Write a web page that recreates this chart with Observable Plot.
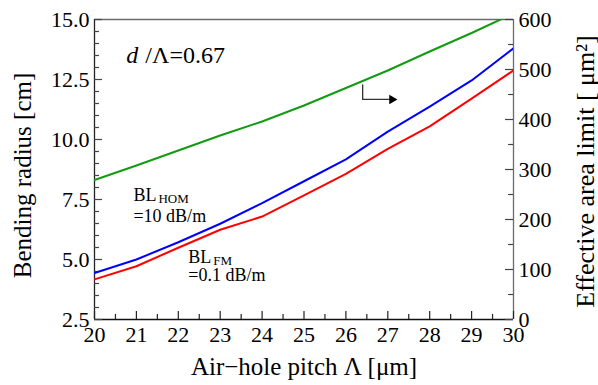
<!DOCTYPE html>
<html>
<head>
<meta charset="utf-8">
<script src="https://cdn.jsdelivr.net/npm/d3@7"></script>
<script src="https://cdn.jsdelivr.net/npm/@observablehq/plot@0.6"></script>
<style>
  html, body { margin: 0; padding: 0; background: #fff; }
  #chart svg { display: block; }
</style>
</head>
<body>
<div id="chart"></div>
<script>
// ---- data ----
const pitch = [20, 21, 22, 23, 24, 25, 26, 27, 28, 29, 30];
const blHom = [4.44, 5.0, 5.72, 6.49, 7.35, 8.26, 9.17, 10.33, 11.37, 12.46, 13.8];
const blFm  = [4.17, 4.72, 5.49, 6.24, 6.79, 7.67, 8.57, 9.61, 10.55, 11.70, 12.88];
const aeffLimit = [279, 308, 338, 368, 396, 428, 463, 498, 536, 573, 612];

const xTicks = [20, 21, 22, 23, 24, 25, 26, 27, 28, 29, 30];
const xMinor = [20.5, 21.5, 22.5, 23.5, 24.5, 25.5, 26.5, 27.5, 28.5, 29.5];
const yTicks = [2.5, 5.0, 7.5, 10.0, 12.5, 15.0];
const yMinor = [3, 3.5, 4, 4.5, 5.5, 6, 6.5, 7, 8, 8.5, 9, 9.5, 10.5, 11, 11.5, 12, 13, 13.5, 14, 14.5];
const areaTicks = [0, 100, 200, 300, 400, 500, 600];
const areaMinor = [50, 150, 250, 350, 450, 550];

const xDomain = [20, 30];
const yDomain = [2.5, 15];
const areaDomain = [0, 600];

// annotation anchors (data units of left axis)
const arrowX = [26.4, 26.4, 27.05];
const arrowY = [12.28, 11.67, 11.67];
const arrowHead = [{x: 27.1, y: 11.67}];

const xLabel = "Air\u2212hole pitch \u039b [\u03bcm]";
const yLabel = "Bending radius [cm]";
const y2Label = "Effective area limit [ \u03bcm\u00b2]";

// ---- helpers ----
const toLeft = a => yDomain[0] + (a - areaDomain[0]) / (areaDomain[1] - areaDomain[0]) * (yDomain[1] - yDomain[0]);
const fromLeft = v => areaDomain[0] + (v - yDomain[0]) / (yDomain[1] - yDomain[0]) * (areaDomain[1] - areaDomain[0]);

const homData = pitch.map((p, i) => ({x: p, y: blHom[i]}));
const fmData = pitch.map((p, i) => ({x: p, y: blFm[i]}));
const aeffData = pitch.map((p, i) => ({x: p, y: toLeft(aeffLimit[i])}));
const arrowData = arrowX.map((x, i) => ({x, y: arrowY[i]}));

const F = "'Liberation Serif', 'Times New Roman', serif";
const tickFs = 22;
const W = 598, H = 385, ML = 94, MR = 85, MT = 19, MB = 66;
const innerW = W - ML - MR, innerH = H - MT - MB;
const majorLen = 8, minorLen = 5;

const chart = Plot.plot({
  width: W,
  height: H,
  marginLeft: ML,
  marginRight: MR,
  marginTop: MT,
  marginBottom: MB,
  style: {fontFamily: F, background: "#fff", color: "#000"},
  x: {domain: xDomain},
  y: {domain: yDomain},
  marks: [
    // frame edges
    Plot.ruleY([yDomain[1]], {stroke: "#6b6b6b", strokeWidth: 1.3}),
    Plot.ruleX([xDomain[1]], {stroke: "#6b6b6b", strokeWidth: 1.3}),
    Plot.ruleX([xDomain[0]], {stroke: "#222", strokeWidth: 1.3}),
    Plot.ruleY([yDomain[0]], {stroke: "#111", strokeWidth: 1.3}),
    // inward ticks
    Plot.tickX(xTicks, {x: d => d, insetTop: innerH - majorLen, stroke: "#222", strokeWidth: 1.2}),
    Plot.tickX(xMinor, {x: d => d, insetTop: innerH - minorLen, stroke: "#222", strokeWidth: 1.2}),
    Plot.tickY(yTicks, {y: d => d, insetRight: innerW - majorLen, stroke: "#444", strokeWidth: 1.2}),
    Plot.tickY(yMinor, {y: d => d, insetRight: innerW - minorLen, stroke: "#444", strokeWidth: 1.2}),
    Plot.tickY(areaTicks.map(toLeft), {y: d => d, insetLeft: innerW - majorLen, stroke: "#444", strokeWidth: 1.2}),
    Plot.tickY(areaMinor.map(toLeft), {y: d => d, insetLeft: innerW - minorLen, stroke: "#444", strokeWidth: 1.2}),
    // tick labels
    Plot.axisX(xTicks, {tickSize: 0, tickPadding: 7, fontSize: tickFs, label: null, tickFormat: d => String(d)}),
    Plot.axisY(yTicks, {tickSize: 0, tickPadding: 5, fontSize: tickFs, label: null, tickFormat: d3.format(".1f")}),
    Plot.axisY(areaTicks.map(toLeft), {anchor: "right", tickSize: 0, tickPadding: 5, fontSize: tickFs, label: null,
      tickFormat: d => String(Math.round(fromLeft(d)))}),
    // axis titles
    Plot.text([yLabel], {frameAnchor: "left", rotate: -90, dx: -64, dy: 6, textAnchor: "middle", lineAnchor: "bottom", fontSize: 25, fill: "#000"}),
    Plot.text([y2Label], {frameAnchor: "right", rotate: -90, dx: 80, dy: 2, textAnchor: "middle", lineAnchor: "bottom", fontSize: 26, fill: "#000"}),
    Plot.text([xLabel], {frameAnchor: "bottom", dy: 55, textAnchor: "middle", lineAnchor: "bottom", fontSize: 25, fill: "#000"}),
    // data lines
    Plot.line(aeffData, {x: "x", y: "y", stroke: "#139a13", strokeWidth: 2, clip: true}),
    Plot.line(fmData, {x: "x", y: "y", stroke: "#ff0000", strokeWidth: 2, clip: true}),
    Plot.line(homData, {x: "x", y: "y", stroke: "#0000ff", strokeWidth: 2, clip: true}),
    // arrow
    Plot.line(arrowData, {x: "x", y: "y", stroke: "#333", strokeWidth: 1.3}),
    Plot.dot(arrowHead, {x: "x", y: "y", symbol: "triangle2", r: 4.5, rotate: 90, fill: "#000", stroke: "none"}),
    // annotations
    Plot.text(["d"], {x: () => 20.76, y: () => 13.195, textAnchor: "start", lineAnchor: "bottom", fontSize: 24, fontStyle: "italic", fill: "#000"}),
    Plot.text(["/\u039b=0.67"], {x: () => 20.76, y: () => 13.195, dx: 19, textAnchor: "start", lineAnchor: "bottom", fontSize: 24, fill: "#000"}),
    Plot.text(["BL"], {x: () => 20.93, y: () => 7.43, textAnchor: "start", lineAnchor: "bottom", fontSize: 18, fill: "#000"}),
    Plot.text(["HOM"], {x: () => 20.93, y: () => 7.43, dx: 25, dy: 2, textAnchor: "start", lineAnchor: "bottom", fontSize: 13, fill: "#000"}),
    Plot.text(["=10 dB/m"], {x: () => 20.93, y: () => 6.555, textAnchor: "start", lineAnchor: "bottom", fontSize: 18, fill: "#000"}),
    Plot.text(["BL"], {x: () => 22.24, y: () => 4.85, textAnchor: "start", lineAnchor: "bottom", fontSize: 18, fill: "#000"}),
    Plot.text(["FM"], {x: () => 22.24, y: () => 4.85, dx: 25, dy: 2, textAnchor: "start", lineAnchor: "bottom", fontSize: 13, fill: "#000"}),
    Plot.text(["=0.1 dB/m"], {x: () => 22.24, y: () => 4.1, textAnchor: "start", lineAnchor: "bottom", fontSize: 18, fill: "#000"})
  ]
});
document.getElementById("chart").appendChild(chart);
</script>
</body>
</html>
